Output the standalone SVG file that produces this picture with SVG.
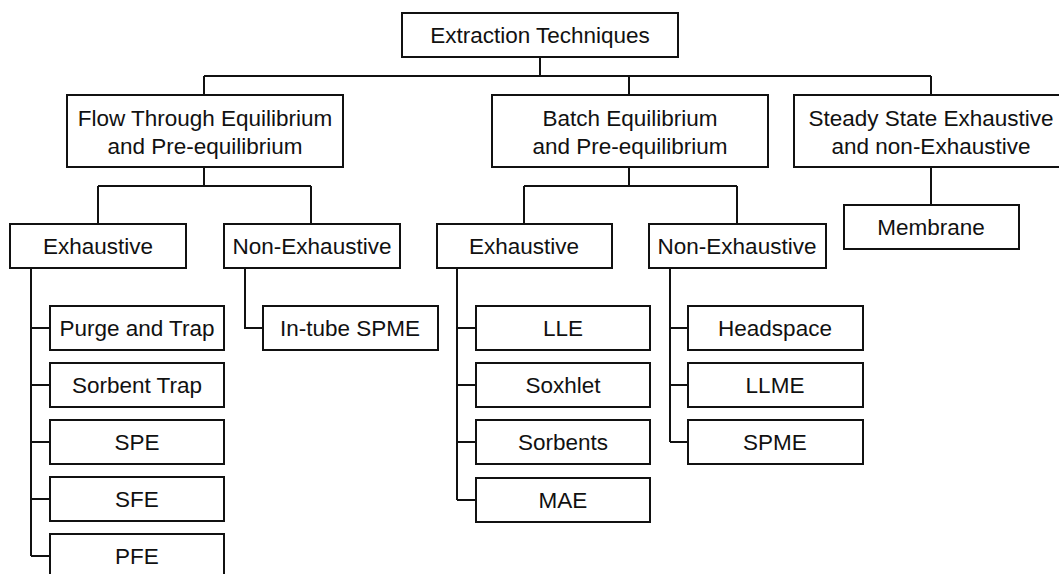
<svg xmlns="http://www.w3.org/2000/svg" width="1059" height="574" viewBox="0 0 1059 574">
<style>
.b{fill:#fff;stroke:#111;stroke-width:2}
.t{font-family:"Liberation Sans",Arial,sans-serif;font-size:22.5px;fill:#111;text-anchor:middle}
.c{fill:none;stroke:#111;stroke-width:2}
</style>
<rect width="1059" height="574" fill="#fff"/>
<g id="connectors">
<path class="c" d="M540,57 V76 M204,76 H931 M204,76 V95 M629,76 V95 M931,76 V95"/>
<path class="c" d="M204,167 V186 M98,186 H311 M98,186 V224 M311,186 V224"/>
<path class="c" d="M629,167 V186 M524,186 H737 M524,186 V224 M737,186 V224"/>
<path class="c" d="M931,167 V205"/>
<path class="c" d="M31,268 V556 M31,328 H50 M31,385 H50 M31,442 H50 M31,499 H50 M31,556 H50"/>
<path class="c" d="M245,268 V328 H263"/>
<path class="c" d="M457,268 V500 M457,328 H476 M457,385 H476 M457,442 H476 M457,500 H476"/>
<path class="c" d="M670,268 V442 M670,328 H688 M670,385 H688 M670,442 H688"/>
</g>
<g id="n-root"><rect class="b" x="402" y="13" width="276" height="44"/><text class="t" x="540" y="43">Extraction Techniques</text></g>
<g id="n-flow"><rect class="b" x="67" y="95" width="276" height="72"/><text class="t" x="205" y="126">Flow Through Equilibrium</text><text class="t" x="205" y="154">and Pre-equilibrium</text></g>
<g id="n-batch"><rect class="b" x="492" y="95" width="276" height="72"/><text class="t" x="630" y="126">Batch Equilibrium</text><text class="t" x="630" y="154">and Pre-equilibrium</text></g>
<g id="n-steady"><rect class="b" x="794" y="95" width="274" height="72"/><text class="t" x="931" y="126">Steady State Exhaustive</text><text class="t" x="931" y="154">and non-Exhaustive</text></g>
<g id="n-flow-exh"><rect class="b" x="10" y="224" width="176" height="44"/><text class="t" x="98" y="254">Exhaustive</text></g>
<g id="n-flow-nonexh"><rect class="b" x="224" y="224" width="176" height="44"/><text class="t" x="312" y="254">Non-Exhaustive</text></g>
<g id="n-batch-exh"><rect class="b" x="437" y="224" width="175" height="44"/><text class="t" x="524" y="254">Exhaustive</text></g>
<g id="n-batch-nonexh"><rect class="b" x="649" y="224" width="177" height="44"/><text class="t" x="737" y="254">Non-Exhaustive</text></g>
<g id="n-membrane"><rect class="b" x="844" y="205" width="175" height="44"/><text class="t" x="931" y="235">Membrane</text></g>
<g id="n-purge"><rect class="b" x="50" y="306" width="174" height="44"/><text class="t" x="137" y="336">Purge and Trap</text></g>
<g id="n-sorbtrap"><rect class="b" x="50" y="363" width="174" height="44"/><text class="t" x="137" y="393">Sorbent Trap</text></g>
<g id="n-spe"><rect class="b" x="50" y="420" width="174" height="44"/><text class="t" x="137" y="450">SPE</text></g>
<g id="n-sfe"><rect class="b" x="50" y="477" width="174" height="44"/><text class="t" x="137" y="507">SFE</text></g>
<g id="n-pfe"><rect class="b" x="50" y="534" width="174" height="44"/><text class="t" x="137" y="564">PFE</text></g>
<g id="n-intube"><rect class="b" x="263" y="306" width="175" height="44"/><text class="t" x="350" y="336">In-tube SPME</text></g>
<g id="n-lle"><rect class="b" x="476" y="306" width="174" height="44"/><text class="t" x="563" y="336">LLE</text></g>
<g id="n-soxhlet"><rect class="b" x="476" y="363" width="174" height="44"/><text class="t" x="563" y="393">Soxhlet</text></g>
<g id="n-sorbents"><rect class="b" x="476" y="420" width="174" height="44"/><text class="t" x="563" y="450">Sorbents</text></g>
<g id="n-mae"><rect class="b" x="476" y="478" width="174" height="44"/><text class="t" x="563" y="508">MAE</text></g>
<g id="n-headspace"><rect class="b" x="688" y="306" width="175" height="44"/><text class="t" x="775" y="336">Headspace</text></g>
<g id="n-llme"><rect class="b" x="688" y="363" width="175" height="44"/><text class="t" x="775" y="393">LLME</text></g>
<g id="n-spme"><rect class="b" x="688" y="420" width="175" height="44"/><text class="t" x="775" y="450">SPME</text></g>
</svg>
